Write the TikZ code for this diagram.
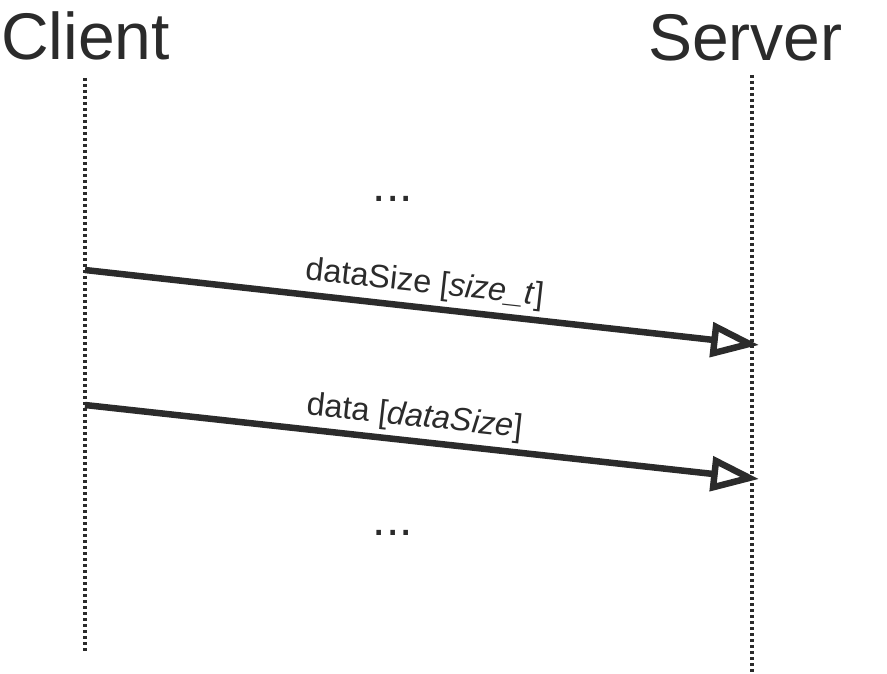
\documentclass[tikz,border=0pt]{standalone}
\usepackage{fontspec}
\setmainfont{Liberation Sans}
\usetikzlibrary{arrows.meta}
\definecolor{ink}{HTML}{2B2B2B}
\begin{document}
\begin{tikzpicture}[x=1pt,y=-1pt,
  lifeline/.style={draw=ink,line width=3.2pt,dash pattern=on 3.2pt off 2.8pt},
  msg/.style={draw=ink,line width=6.5pt,-{Triangle[open,length=48pt,width=34pt,line width=6.5pt]}},
  title/.style={font=\fontsize{66}{66}\selectfont,text=ink,inner sep=0pt,anchor=base west},
  lbl/.style={font=\fontsize{32.5}{32.5}\selectfont,text=ink,sloped,above,inner sep=5pt},
  dots/.style={font=\fontsize{48}{48}\selectfont,text=ink,inner sep=0pt,anchor=base}]
\useasboundingbox (0,0) rectangle (887,674);
\node[title] (client) at (1,60) {Client};
\node[title] (server) at (648,61) {Server};
\coordinate (ct) at (85,78);
\coordinate (cb) at (85,652);
\coordinate (st) at (752,75);
\coordinate (sb) at (752,672);
\draw[lifeline] (ct) -- (cb);
\draw[lifeline] (st) -- (sb);
\coordinate (m1s) at (85,270);
\coordinate (m1e) at (759,345);
\coordinate (m2s) at (85,405);
\coordinate (m2e) at (759,479);
\draw[msg] (m1s) -- node[lbl,pos=0.5] (l1) {dataSize [\textit{size\_t}]} (m1e);
\draw[msg] (m2s) -- node[lbl,pos=0.485] (l2) {data [\textit{dataSize}]} (m2e);
\node[dots] (d1) at (393,202) {...};
\node[dots] (d2) at (393,535) {...};
\end{tikzpicture}
\end{document}
